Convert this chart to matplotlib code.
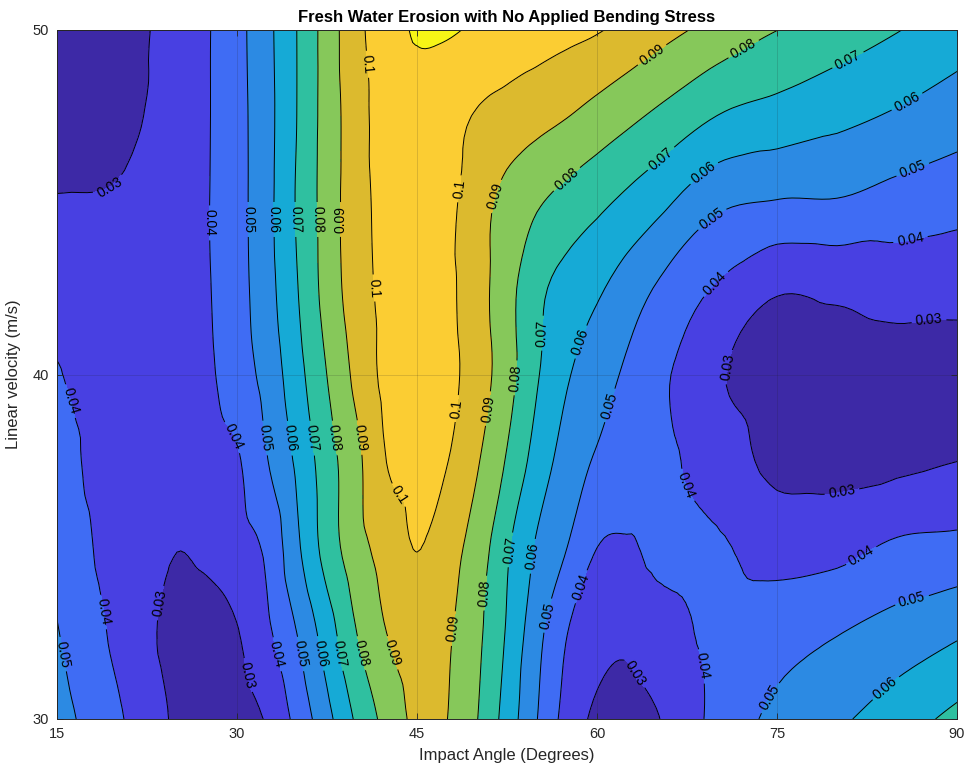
import numpy as np
import matplotlib
matplotlib.use("Agg")
import matplotlib.pyplot as plt
import matplotlib.tri as mtri

plt.rcParams['font.family'] = ['Liberation Sans', 'DejaVu Sans']

# ---------------- data ----------------
angles = [15, 20, 25, 27.5, 30, 32.5, 35, 37.5, 40, 42.5, 45, 47.5, 50, 52.5,
          55, 57.5, 60, 62.5, 65, 70, 75, 80, 85, 90]
velocities = [30, 32.5, 35, 37.5, 40, 42.5, 45, 47.5, 50]

erosion_v30 = [0.054, 0.0415, 0.0285, 0.025, 0.026, 0.031, 0.043, 0.057, 0.0717, 0.0833, 0.092, 0.0901,
               0.0803, 0.0658, 0.0502, 0.0364, 0.028, 0.026, 0.0295, 0.0427, 0.0526, 0.0583, 0.0653, 0.0727]
erosion_v32_5 = [0.0505, 0.038, 0.027, 0.026, 0.0295, 0.0381, 0.0501, 0.065, 0.0801, 0.0901, 0.095, 0.0913,
                 0.0823, 0.069, 0.0533, 0.0402, 0.034, 0.032, 0.036, 0.0421, 0.0459, 0.0496, 0.0541, 0.0587]
erosion_v35 = [0.047, 0.036, 0.0302, 0.032, 0.036, 0.042, 0.0582, 0.0741, 0.0863, 0.094, 0.1003, 0.094,
               0.0857, 0.0715, 0.0588, 0.0501, 0.0401, 0.039, 0.042, 0.041, 0.0363, 0.0369, 0.0415, 0.0427]
erosion_v37_5 = [0.044, 0.035, 0.035, 0.036, 0.039, 0.0496, 0.0618, 0.0755, 0.0877, 0.1002, 0.103, 0.1003,
                 0.091, 0.0791, 0.066, 0.0557, 0.049, 0.047, 0.043, 0.0356, 0.0275, 0.027, 0.028, 0.0299]
erosion_v40 = [0.0405, 0.035, 0.036, 0.0385, 0.0449, 0.0536, 0.0664, 0.0801, 0.0926, 0.1025, 0.104, 0.1025,
               0.0952, 0.084, 0.0709, 0.061, 0.0545, 0.0485, 0.0428, 0.0312, 0.026, 0.025, 0.026, 0.027]
erosion_v42_5 = [0.036, 0.035, 0.037, 0.0393, 0.0462, 0.0563, 0.0695, 0.0838, 0.0954, 0.1025, 0.104, 0.102,
                 0.0942, 0.0837, 0.0726, 0.0663, 0.0615, 0.0554, 0.0492, 0.039, 0.031, 0.032, 0.034, 0.033]
erosion_v45 = [0.0305, 0.031, 0.0355, 0.0395, 0.0465, 0.057, 0.0709, 0.0843, 0.0961, 0.103, 0.1045, 0.1025,
               0.0943, 0.0868, 0.0811, 0.0766, 0.0723, 0.0678, 0.063, 0.0521, 0.0495, 0.0493, 0.046, 0.0436]
erosion_v47_5 = [0.026, 0.027, 0.0349, 0.0393, 0.0466, 0.0568, 0.0701, 0.0842, 0.0959, 0.1045, 0.105, 0.103,
                 0.0993, 0.0963, 0.0933, 0.0903, 0.0864, 0.0824, 0.0783, 0.0699, 0.0662, 0.0626, 0.0588, 0.0546]
erosion_v50 = [0.024, 0.026, 0.0341, 0.0392, 0.0469, 0.0573, 0.0701, 0.0843, 0.0974, 0.1055, 0.1109, 0.1109,
               0.1088, 0.1068, 0.1048, 0.1027, 0.1007, 0.0975, 0.0938, 0.0867, 0.0801, 0.0752, 0.0704, 0.065]

levels = [0.02, 0.03, 0.04, 0.05, 0.06, 0.07, 0.08, 0.09, 0.10, 0.11, 0.12]
x_ticks = [15, 30, 45, 60, 75, 90]
y_ticks = [30, 40, 50]

# ---------------- styling ----------------
fill_colors = ['#3d29a6', '#4840e2', '#3f6cf4', '#2c8ae3', '#16aad6',
               '#2fc0a0', '#86c85a', '#dcba2e', '#fbcd33', '#f7f516']

label_spots = [
    (20.0, 45.0), (27.75, 44.4), (31.1, 44.5), (32.9, 44.5), (34.9, 44.5), (36.75, 44.5),
    (38.75, 44.5), (40.7, 49.0), (40.8, 42.5), (48.3, 45.4), (51.3, 45.2), (57.75, 45.56),
    (65.25, 46.3), (68.8, 45.9), (69.4, 44.6), (70.0, 42.6), (71.2, 40.2), (64.75, 49.2),
    (72.3, 49.4), (81.1, 49.0), (85.75, 47.97), (86.25, 46.0), (86.25, 43.67), (87.75, 41.06),
    (53.3, 39.9), (55.5, 41.2), (58.2, 41.0), (48.6, 39.0), (51.1, 39.0), (61.1, 39.1),
    (68.3, 36.9), (80.25, 36.9), (82.1, 34.7), (86.1, 33.7), (83.8, 31.0), (72.3, 31.0),
    (67.9, 31.5), (63.8, 31.4), (59.0, 33.8), (55.9, 33.0), (55.1, 34.7), (53.0, 34.9),
    (50.8, 33.65), (48.6, 32.6), (43.2, 36.4), (29.4, 38.15), (32.2, 38.15), (34.4, 38.15),
    (36.25, 38.15), (38.0, 38.15), (39.8, 38.15), (15.8, 39.2), (18.8, 33.1), (15.8, 31.9),
    (23.0, 33.4), (31.3, 31.3), (33.6, 31.9), (35.5, 31.9), (36.9, 31.9), (38.6, 31.9),
    (40.25, 31.9), (42.75, 31.9),
]

Z = np.array([erosion_v30, erosion_v32_5, erosion_v35, erosion_v37_5, erosion_v40,
              erosion_v42_5, erosion_v45, erosion_v47_5, erosion_v50])

# triangulate the measured grid and let matplotlib draw smooth contours through it
X, Y = np.meshgrid(angles, velocities)
nx, ny = len(angles), len(velocities)
tris = []
for j in range(ny - 1):
    for i in range(nx - 1):
        a = j * nx + i
        tris.append([a, a + 1, a + nx + 1])
        tris.append([a, a + nx + 1, a + nx])
tri = mtri.Triangulation(X.ravel(), Y.ravel(), tris)
interp = mtri.CubicTriInterpolator(tri, Z.ravel(), kind='geom')
tri_f, z_f = mtri.UniformTriRefiner(tri).refine_field(Z.ravel(), triinterpolator=interp, subdiv=3)

fig = plt.figure(figsize=(9.77, 7.74), dpi=100)
ax = fig.add_axes([57 / 977, 55 / 774, 900 / 977, 689 / 774])

ax.tricontourf(tri_f, z_f, levels=levels, colors=fill_colors)
cs = ax.tricontour(tri_f, z_f, levels=levels[1:-1], colors='black', linewidths=0.7)
ax.clabel(cs, manual=label_spots, inline=True, inline_spacing=4, fontsize=10,
          fmt=lambda v: f"{v:g}")

ax.set_xlim(15, 90)
ax.set_ylim(30, 50)
ax.set_xticks(x_ticks)
ax.set_yticks(y_ticks)
ax.grid(True, color='#202020', alpha=0.18, linewidth=0.6)
ax.set_axisbelow(False)
ax.tick_params(direction='in', length=4, width=0.6, labelsize=10.5, colors='#262626',
               top=True, right=True, pad=6)
for s in ax.spines.values():
    s.set_linewidth(0.7)
    s.set_color('#262626')

ax.set_title('Fresh Water Erosion with No Applied Bending Stress', fontsize=12,
             fontweight='bold', pad=6)
ax.set_xlabel('Impact Angle (Degrees)', fontsize=12, color='#262626', labelpad=5)
ax.set_ylabel('Linear velocity (m/s)', fontsize=12, color='#262626', labelpad=8)

fig.savefig('out.png', dpi=100)
